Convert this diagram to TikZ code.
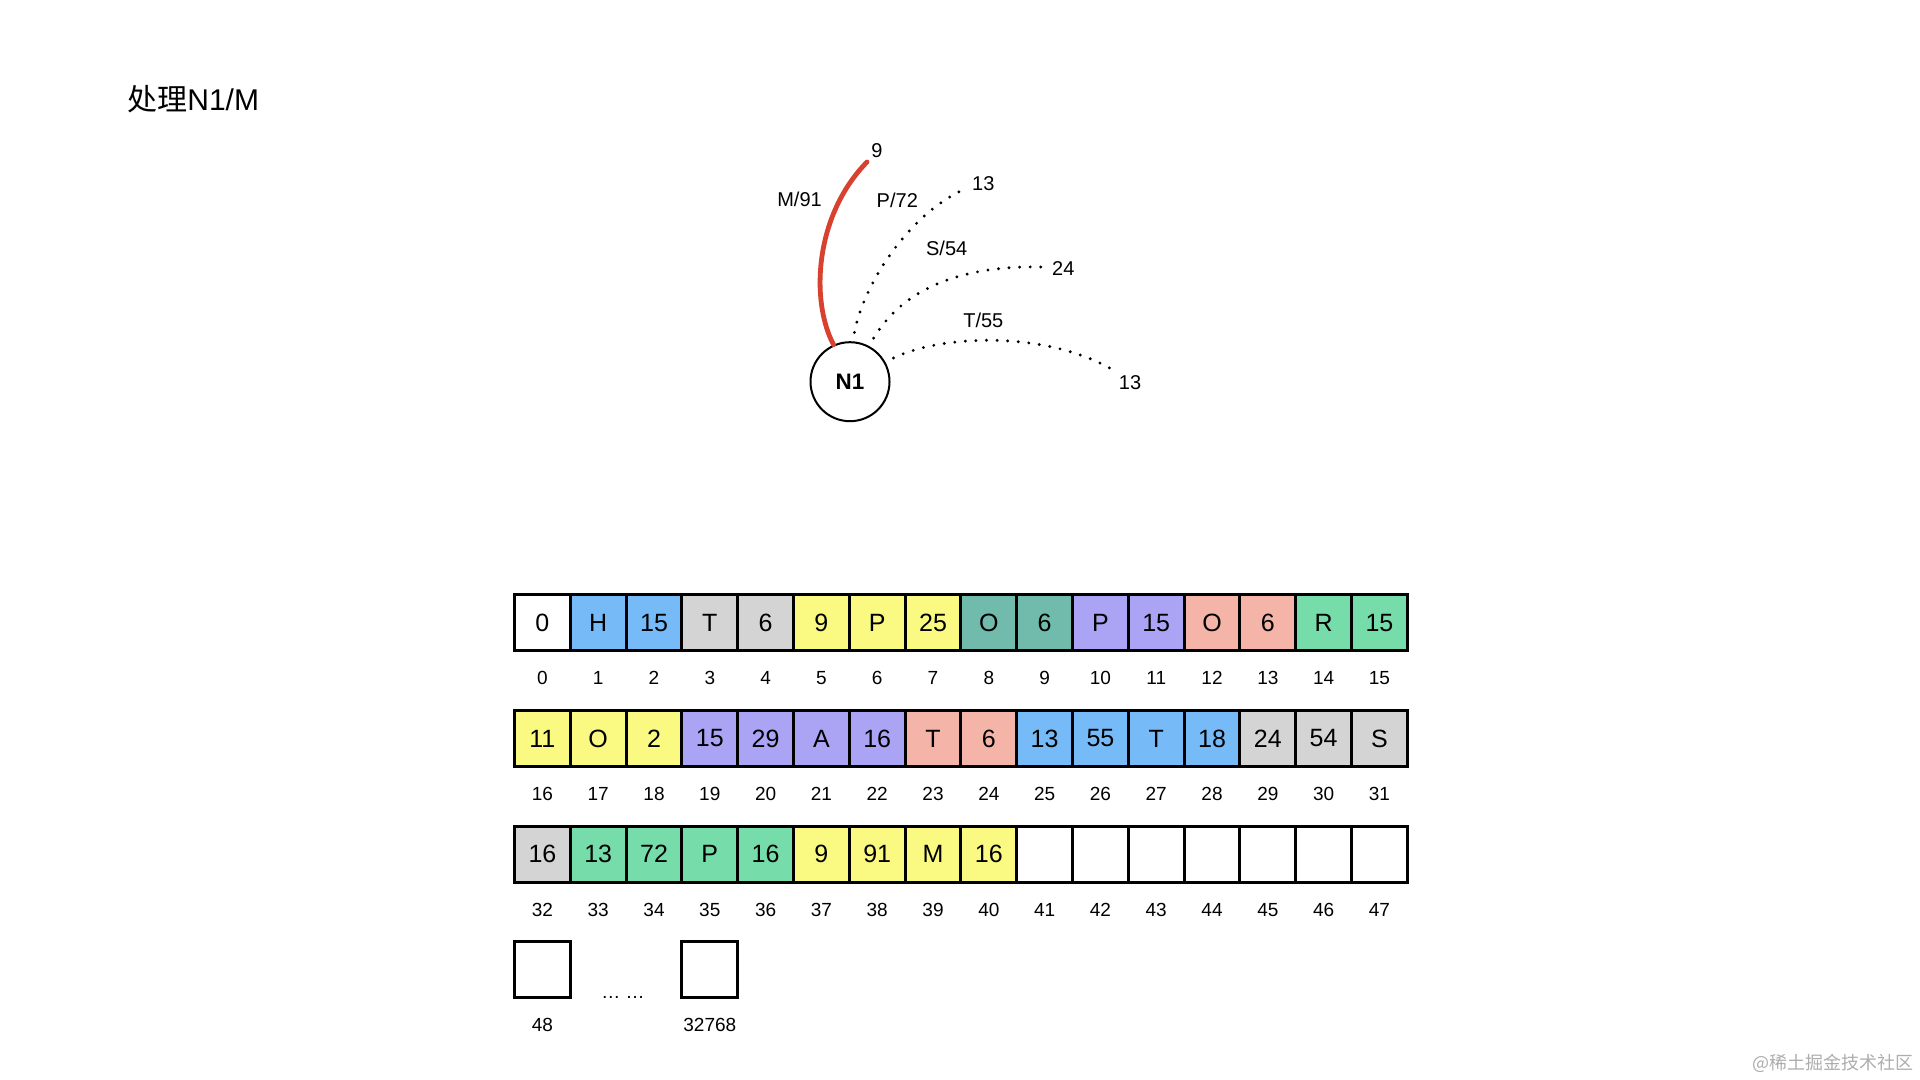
\documentclass[tikz,border=0pt]{standalone}
\usepackage{fontspec}
\setmainfont{Liberation Sans}
\newfontfamily\cjk{Noto Sans CJK SC}
\definecolor{cblue}{HTML}{76BBF8}
\definecolor{cgrey}{HTML}{D4D4D4}
\definecolor{cyellow}{HTML}{FAFA82}
\definecolor{cteal}{HTML}{70BBAB}
\definecolor{cpurple}{HTML}{ABA4F5}
\definecolor{csalmon}{HTML}{F5B4A8}
\definecolor{cgreen}{HTML}{76DCAA}
\definecolor{cred}{HTML}{D8412E}
\begin{document}
\begin{tikzpicture}[x=0.5pt,y=-0.5pt,
  cell/.style={draw, line width=1.5pt, minimum size=27.9pt, inner sep=0pt, font=\fontsize{12.5}{14}\selectfont},
  idx/.style={font=\fontsize{9.5}{11}\selectfont, inner sep=0pt},
  lbl/.style={font=\fontsize{10}{12}\selectfont, inner sep=0pt},
  dotline/.style={line width=1.6pt, line cap=round, dash pattern=on 0pt off 5.3pt, shorten <=4.5pt},
  redline/.style={cred, line width=2.4pt, line cap=round},
]
\useasboundingbox (0,0) rectangle (1920,1080);

% title
\node[anchor=west, inner sep=0pt, font=\fontsize{15}{18}\selectfont] (title) at (127,99) {{\cjk 处理}N1/M};

% array cells
\foreach \i/\t/\c in {0/0/white,1/H/cblue,2/15/cblue,3/T/cgrey,4/6/cgrey,5/9/cyellow,6/P/cyellow,7/25/cyellow,
  8/O/cteal,9/6/cteal,10/P/cpurple,11/15/cpurple,12/O/csalmon,13/6/csalmon,14/R/cgreen,15/15/cgreen,
  16/11/cyellow,17/O/cyellow,18/2/cyellow,19/15/cpurple,20/29/cpurple,21/A/cpurple,22/16/cpurple,23/T/csalmon,
  24/6/csalmon,25/13/cblue,26/55/cblue,27/T/cblue,28/18/cblue,29/24/cgrey,30/54/cgrey,31/S/cgrey,
  32/16/cgrey,33/13/cgreen,34/72/cgreen,35/P/cgreen,36/16/cgreen,37/9/cyellow,38/91/cyellow,39/M/cyellow,
  40/16/cyellow,41//white,42//white,43//white,44//white,45//white,46//white,47//white}{
  \pgfmathtruncatemacro{\row}{floor(\i/16)}
  \pgfmathtruncatemacro{\col}{mod(\i,16)}
  \node[cell, fill=\c] (c\i) at ({542.4+55.8*\col},{622.7+115.7*\row}) {\t};
  \node[idx] (l\i) at ({542.4+55.8*\col},{678.2+115.7*\row}) {\i};
}

% last row
\node[cell, fill=white] (c48) at (542.4,969.8) {};
\node[idx] (l48) at (542.4,1025.3) {48};
\node[cell, fill=white] (c32768) at (709.8,969.8) {};
\node[idx] (l32768) at (709.8,1025.3) {32768};
\node[idx] (dots) at (623,997) {… …};

% tree
\node[draw, circle, line width=1pt, minimum size=39.5pt, inner sep=0pt, font=\bfseries\fontsize{11.2}{13}\selectfont] (n1) at (850,381.7) {N1};

\coordinate (eM) at (867,162);
\coordinate (eP) at (967,188);
\coordinate (eS) at (1042,267);
\coordinate (eT) at (1113,370);

\draw[redline] (n1.114) .. controls (810,300) and (815,215) .. (eM);
\draw[dotline] (n1.86) .. controls (862,290) and (905,215) .. (eP);
\draw[dotline] (n1.62) .. controls (898,297) and (948,265) .. (eS);
\draw[dotline] (n1.29) .. controls (940,335) and (1045,330) .. (eT);

\node[lbl] (v9) at (877,150.7) {9};
\node[lbl] (kM) at (799.5,199.5) {M/91};
\node[lbl] (v13a) at (983.3,184) {13};
\node[lbl] (kP) at (897.3,200) {P/72};
\node[lbl] (v24) at (1063.3,269) {24};
\node[lbl] (kS) at (946.7,248.3) {S/54};
\node[lbl] (v13b) at (1130,382.7) {13};
\node[lbl] (kT) at (983.3,320) {T/55};

% watermark
\node[font=\cjk\fontsize{9}{11}\selectfont, text=black!32, inner sep=0pt] (wm) at (1833,1063) {@稀土掘金技术社区};
\end{tikzpicture}
\end{document}
